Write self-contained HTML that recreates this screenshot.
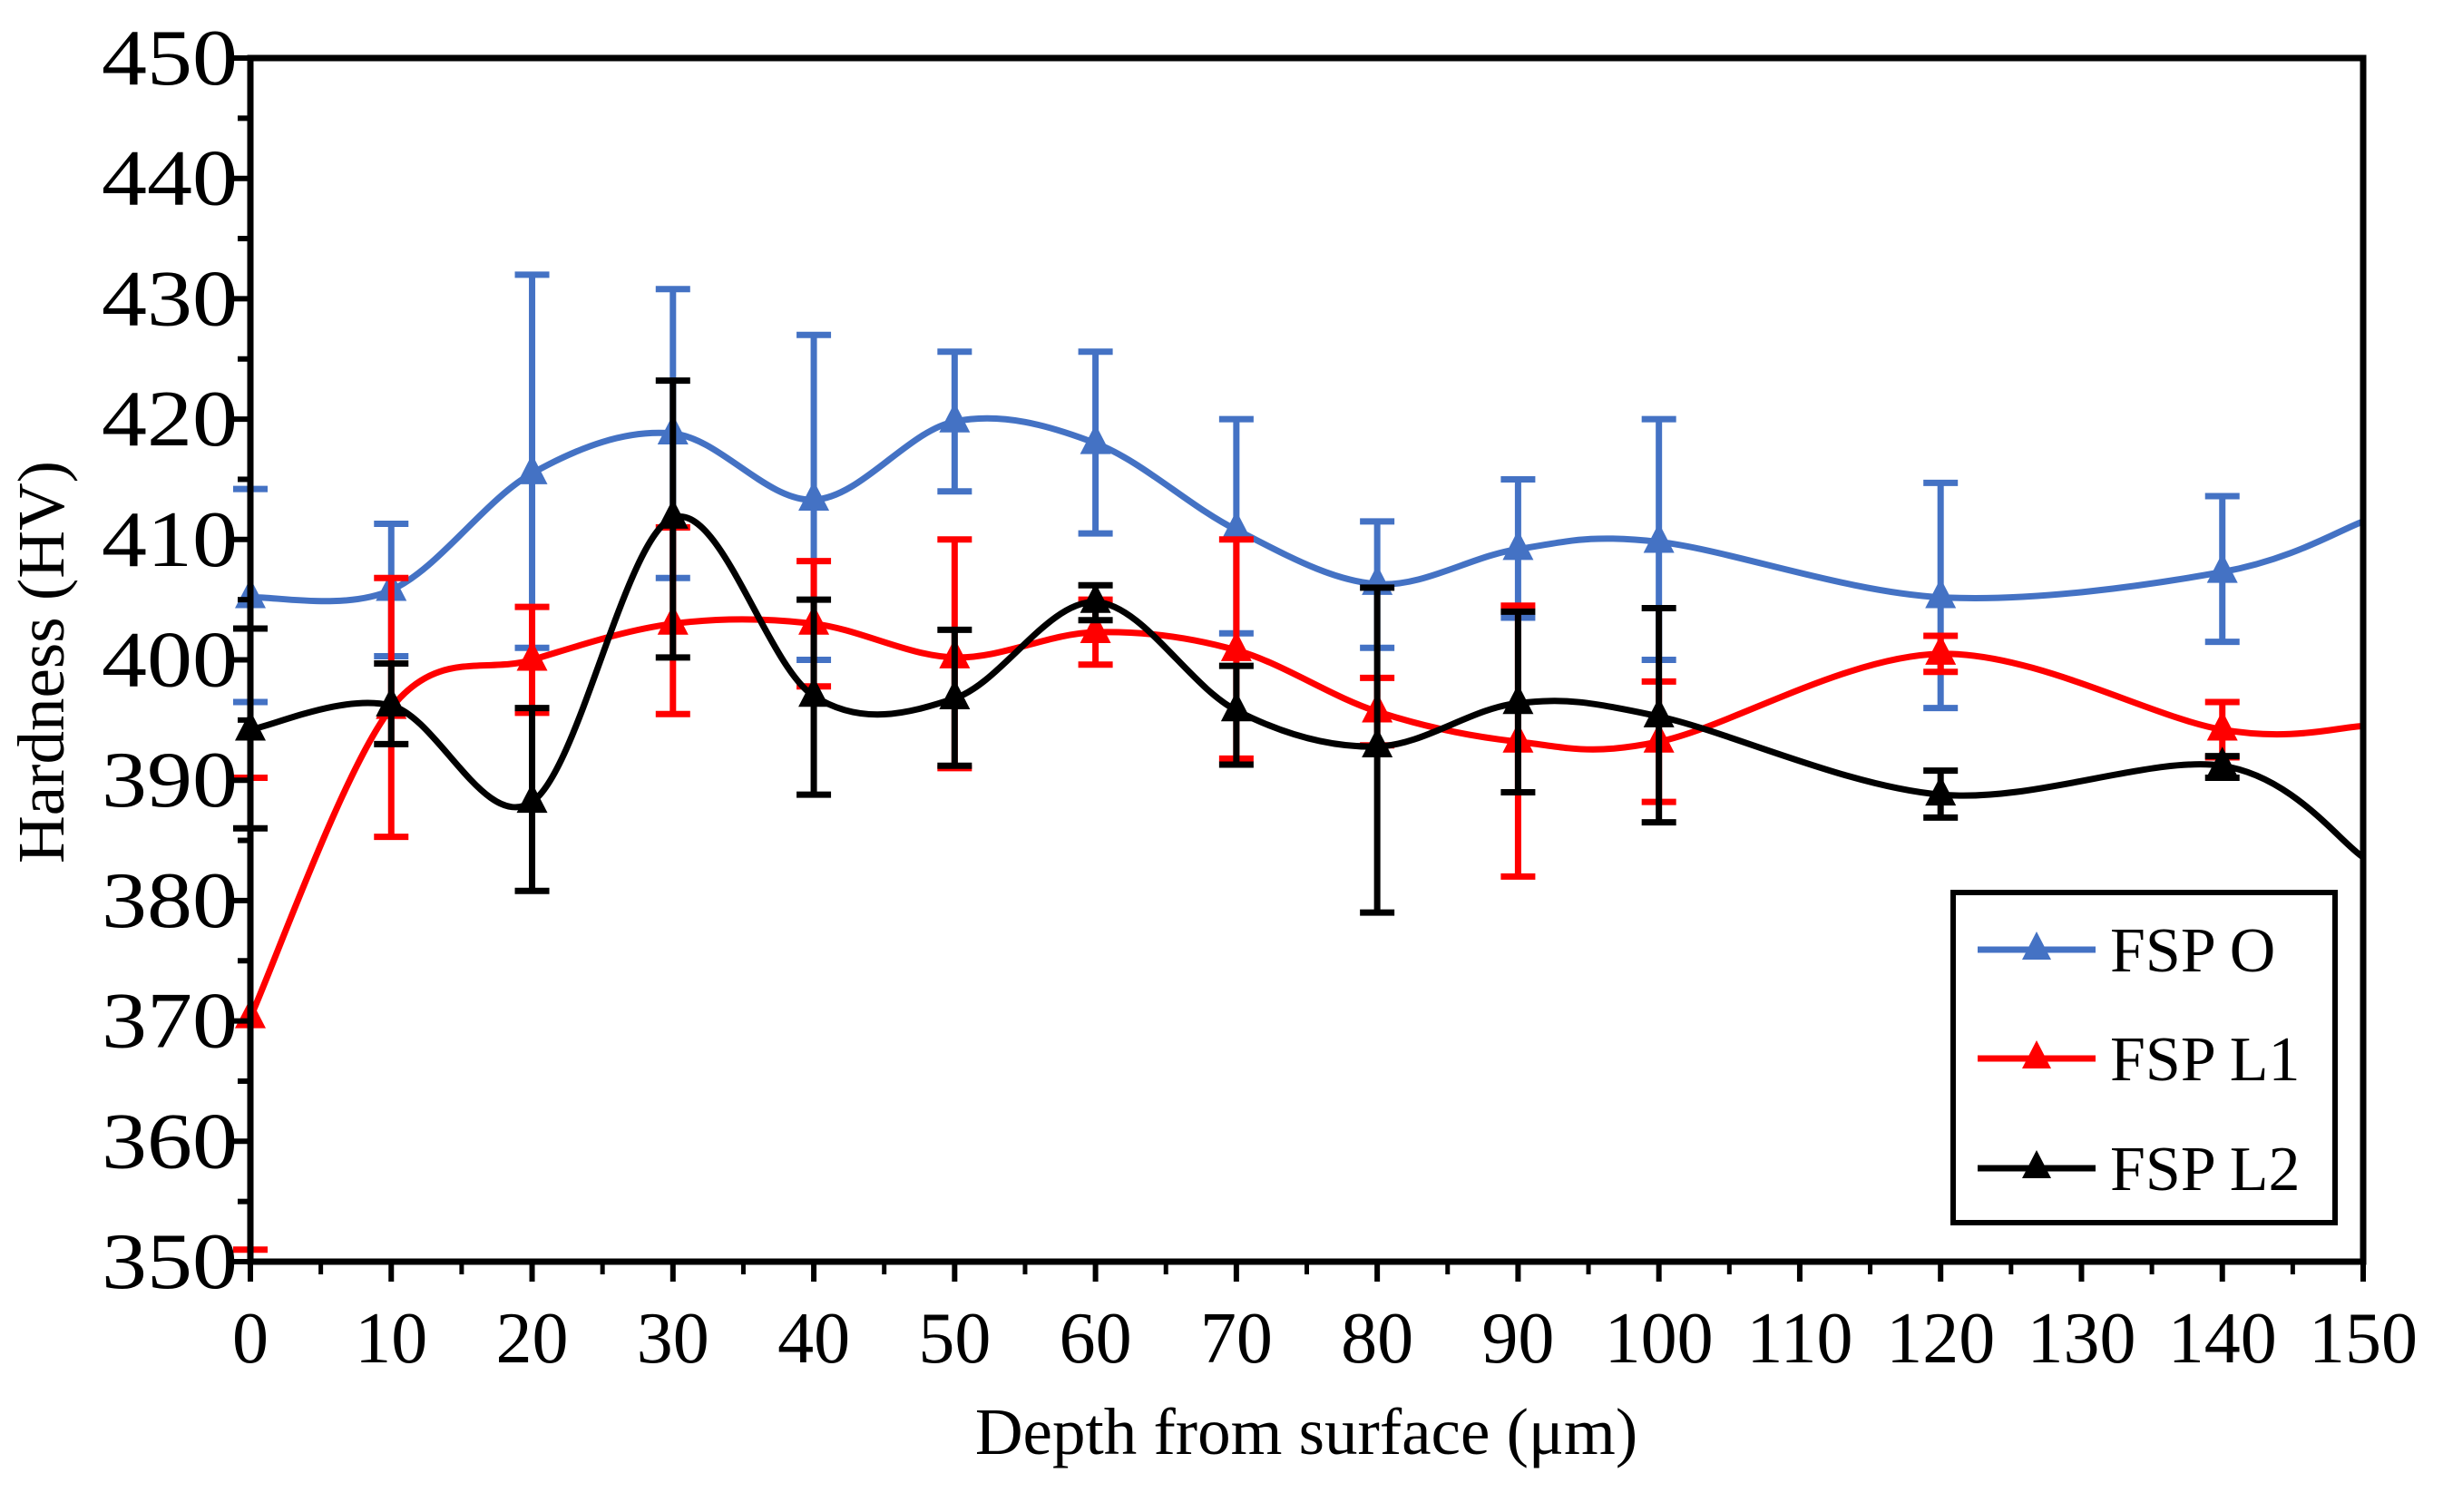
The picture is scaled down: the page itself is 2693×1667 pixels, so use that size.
<!DOCTYPE html>
<html><head><meta charset="utf-8"><style>
html,body{margin:0;padding:0;background:#fff;}
svg{display:block;font-family:"Liberation Serif",serif;}
</style></head><body>
<svg id="chart" width="2693" height="1667" viewBox="0 0 2693 1667" xmlns="http://www.w3.org/2000/svg">
<rect width="2693" height="1667" fill="#fff"/>
<g id="marks"></g>
<g id="axes"></g>
<text x="1440" y="1603" font-size="73" text-anchor="middle">Depth from surface (μm)</text>
<text transform="translate(70,730) rotate(-90)" font-size="73" text-anchor="middle">Hardness (HV)</text>
<g>
<rect x="2153" y="984" width="421" height="364" fill="#fff" stroke="#000" stroke-width="6"/>
<g>
<line x1="2180" y1="1047" x2="2310" y2="1047" stroke="#4472C4" stroke-width="7"/>
<polygon points="2245,1027 2261,1058 2229,1058" fill="#4472C4"/>
<text x="2326" y="1071" font-size="70">FSP O</text></g>
<g>
<line x1="2180" y1="1167" x2="2310" y2="1167" stroke="#FF0000" stroke-width="7"/>
<polygon points="2245,1147 2261,1178 2229,1178" fill="#FF0000"/>
<text x="2326" y="1191" font-size="70">FSP L1</text></g>
<g>
<line x1="2180" y1="1288" x2="2310" y2="1288" stroke="#000" stroke-width="7"/>
<polygon points="2245,1268 2261,1299 2229,1299" fill="#000"/>
<text x="2326" y="1312" font-size="70">FSP L2</text></g>
</g>
</svg>
<script>
const depths = [0,10,20,30,40,50,60,70,80,90,100,120,140,150];
const fspO  = [405.2,405.8,415.5,418.8,413.3,419.8,418,410.8,406.3,409.2,409.8,405.2,407.3,411.5];
const fspOHi = [414.2,411.3,432,430.8,427,425.6,425.6,420,411.5,415,420,414.7,413.6];
const fspOLo = [396.5,400.3,401,406.8,400,414,410.5,402.2,401,403.5,400,396,401.5];
const fspL1 = [370.3,396,400,403,403,400.2,402.3,400.8,395.7,393.2,393.2,400.5,394.2,394.5];
const fspL1Hi = [390.2,406.8,404.4,411,408.2,410,405,410,398.5,404.5,398.2,402,396.5];
const fspL1Lo = [351,385.3,395.6,395.5,397.8,391,399.6,391.8,392.9,382,388.2,399,391.9];
const fspL2 = [394.2,396.2,388.2,411.8,397,396.8,404.8,395.8,392.8,396.4,395.3,388.8,391.2,383.6];
const fspL2Hi = [402.6,399.7,396,423.2,405,402.5,406.2,399.5,406,404,404.3,390.8,392];
const fspL2Lo = [386,393,380.8,400.2,388.8,391.2,403.3,391.3,379,389,386.5,386.9,390.2];
const yTicks = [350,360,370,380,390,400,410,420,430,440,450];
const xTicks = [0,10,20,30,40,50,60,70,80,90,100,110,120,130,140,150];

const X0=276,X1=2605,Y0=1391,Y1=64;
const sx=v=>X0+(v-0)/150*(X1-X0);
const sy=v=>Y0-(v-350)/100*(Y0-Y1);
const NS="http://www.w3.org/2000/svg";
const marks=document.getElementById('marks'), axes=document.getElementById('axes');
function mk(tag,attrs,parent){const e=document.createElementNS(NS,tag);for(const k in attrs)e.setAttribute(k,attrs[k]);parent.appendChild(e);return e;}

function smooth(xs,ys){
  const p=xs.map((x,i)=>[sx(x),sy(ys[i])]);
  let d='M'+p[0][0]+','+p[0][1];
  for(let i=0;i<p.length-1;i++){
    const a=p[i-1]||p[i],b=p[i],c=p[i+1],e=p[i+2]||c;
    const c1=[b[0]+(c[0]-a[0])/6,b[1]+(c[1]-a[1])/6];
    const c2=[c[0]-(e[0]-b[0])/6,c[1]-(e[1]-b[1])/6];
    d+=' C'+c1[0]+','+c1[1]+' '+c2[0]+','+c2[1]+' '+c[0]+','+c[1];
  }
  return d;
}
const series=[['fsp-o',fspO,fspOHi,fspOLo,'#4472C4'],['fsp-l1',fspL1,fspL1Hi,fspL1Lo,'#FF0000'],['fsp-l2',fspL2,fspL2Hi,fspL2Lo,'#000000']];
series.forEach(([name,vals,hi,lo,col])=>{
  const g=mk('g',{},marks);
  
  
  hi.forEach((h,i)=>{
    const x=sx(depths[i]);
    const eb=mk('path',{d:`M${x},${sy(lo[i])}V${sy(h)}M${x-19},${sy(h)}H${x+19}M${x-19},${sy(lo[i])}H${x+19}`,stroke:col,'stroke-width':7,fill:'none'},g);
    
    
  });
  const ln=mk('path',{d:smooth(depths,vals),stroke:col,'stroke-width':7,fill:'none'},g);
  
  
  hi.forEach((h,i)=>{
    const x=sx(depths[i]),y=sy(vals[i]);
    const m=mk('polygon',{points:`${x},${y-21} ${x+17},${y+12} ${x-17},${y+12}`,fill:col},g);
    
    
  });
});
const fr=mk('rect',{x:X0,y:Y1,width:X1-X0,height:Y0-Y1,fill:'none',stroke:'#000','stroke-width':7},axes);


yTicks.forEach(v=>{
  const y=sy(v);
  const t=mk('line',{x1:X0-20,x2:X0,y1:y,y2:y,stroke:'#000','stroke-width':6},axes);
  
  
  if(v<450){const m=mk('line',{x1:X0-14,x2:X0,y1:sy(v+5),y2:sy(v+5),stroke:'#000','stroke-width':6},axes);
    
    }
  const l=mk('text',{x:X0-14,y:y+29,'font-size':88,'text-anchor':'end',textLength:150,lengthAdjust:'spacingAndGlyphs'},axes);
  l.textContent=v;
  
  
});
xTicks.forEach(v=>{
  const x=sx(v);
  const t=mk('line',{x1:x,x2:x,y1:Y0,y2:Y0+22,stroke:'#000','stroke-width':6},axes);
  
  
  if(v<150){const m=mk('line',{x1:sx(v+5),x2:sx(v+5),y1:Y0,y2:Y0+14,stroke:'#000','stroke-width':5},axes);
    
    }
  const l=mk('text',{x:x,y:1502,'font-size':80,'text-anchor':'middle'},axes);
  l.textContent=v;
  
  
});
</script>
</body></html>
